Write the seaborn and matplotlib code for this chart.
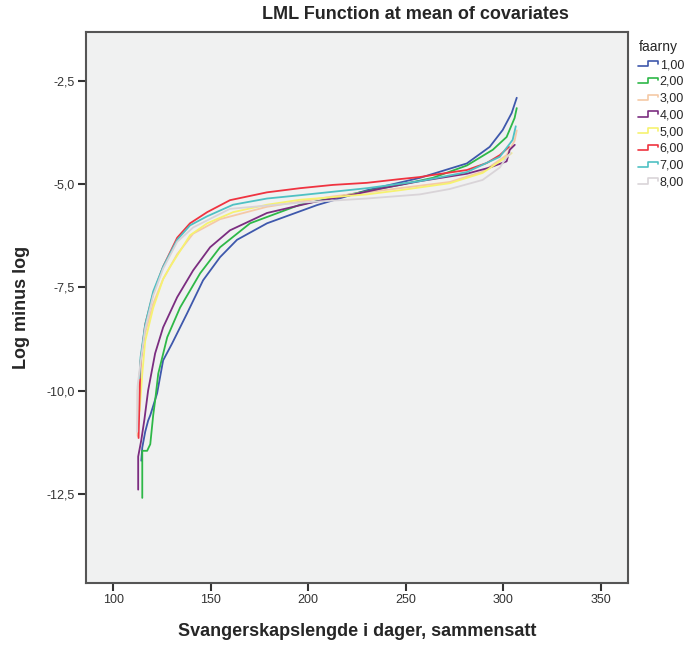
import numpy as np
import pandas as pd
import seaborn as sns
import matplotlib.pyplot as plt
from matplotlib.lines import Line2D
from matplotlib.legend_handler import HandlerBase
from matplotlib.ticker import FuncFormatter

groups = ['1,00', '2,00', '3,00', '4,00', '5,00', '6,00', '7,00', '8,00']
colors = ['#3E58AC', '#2EB848', '#F5C9A6', '#7B2D80', '#F6F270', '#EF3340', '#4FC1C3', '#D9D4D8']

# days, log minus log
days_1 = [114.4, 114.9, 116.4, 117.9, 119.0, 122.5, 125.6, 130.2, 137.9, 146.1, 154.8, 163.5, 178.9, 204.5, 230.1, 257.3, 281.4, 293.1, 299.8, 304.4, 307.0]
lml_1 = [-11.7, -11.38, -11.0, -10.73, -10.6, -10.07, -9.27, -8.86, -8.13, -7.33, -6.77, -6.35, -5.95, -5.51, -5.15, -4.85, -4.5, -4.10, -3.69, -3.28, -2.91]

days_2 = [114.9, 114.9, 117.4, 119.0, 120.5, 121.5, 123.1, 127.7, 134.3, 144.6, 154.8, 170.2, 195.8, 221.4, 247.0, 263.9, 281.4, 294.7, 301.8, 305.9, 307.0]
lml_2 = [-12.6, -11.46, -11.46, -11.3, -10.6, -10.24, -9.59, -8.71, -7.99, -7.16, -6.53, -5.95, -5.5, -5.25, -5.02, -4.85, -4.55, -4.17, -3.86, -3.4, -3.16]

days_3 = [112.5, 112.5, 114.0, 116.4, 120.5, 125.6, 132.8, 141.0, 154.8, 178.9, 212.7, 247.0, 272.6, 289.5, 301.8, 305.9, 307.0]
lml_3 = [-11.1, -10.0, -9.4, -8.6, -7.9, -7.3, -6.7, -6.2, -5.85, -5.55, -5.3, -5.1, -4.95, -4.7, -4.3, -3.95, -3.7]

days_4 = [112.8, 112.8, 114.4, 116.0, 117.9, 121.5, 125.6, 132.8, 141.0, 149.7, 159.9, 178.9, 202.5, 221.4, 238.3, 257.3, 281.4, 293.1, 301.8, 303.4, 306.0]
lml_4 = [-12.4, -11.6, -11.2, -10.7, -10.0, -9.1, -8.47, -7.74, -7.09, -6.53, -6.12, -5.70, -5.44, -5.27, -5.10, -4.93, -4.75, -4.6, -4.45, -4.17, -4.05]

days_5 = [113.5, 114.9, 116.4, 120.5, 125.6, 129.2, 139.4, 148.2, 161.5, 178.9, 195.8, 230.1, 247.0, 272.6, 289.5, 301.8, 304.4]
lml_5 = [-10.5, -9.6, -8.8, -8.0, -7.3, -7.0, -6.24, -5.95, -5.68, -5.5, -5.38, -5.25, -5.15, -4.98, -4.73, -4.34, -4.25]

days_6 = [113.0, 113.5, 114.0, 116.4, 120.5, 125.6, 132.8, 139.4, 148.2, 159.9, 178.9, 195.8, 212.7, 230.1, 247.0, 257.3, 263.9, 281.4, 291.6, 298.3, 303.0]
lml_6 = [-11.15, -10.2, -9.3, -8.4, -7.65, -7.0, -6.3, -5.95, -5.68, -5.39, -5.20, -5.10, -5.02, -4.97, -4.88, -4.83, -4.78, -4.66, -4.49, -4.30, -4.1]

days_7 = [113.5, 114.0, 116.4, 120.5, 125.6, 132.8, 139.4, 148.2, 161.5, 178.9, 195.8, 230.1, 257.3, 281.4, 298.3, 304.9, 306.5]
lml_7 = [-9.7, -9.2, -8.4, -7.6, -7.0, -6.35, -6.0, -5.78, -5.5, -5.35, -5.27, -5.1, -4.93, -4.71, -4.34, -3.93, -3.6]

days_8 = [112.3, 112.5, 113.8, 116.4, 120.5, 125.6, 132.8, 141.0, 159.9, 195.8, 230.1, 257.3, 272.6, 289.5, 298.3, 301.8, 304.0]
lml_8 = [-11.0, -9.9, -9.4, -8.5, -7.7, -7.05, -6.4, -6.05, -5.6, -5.45, -5.35, -5.25, -5.12, -4.9, -4.6, -4.35, -4.25]

all_days = [days_1, days_2, days_3, days_4, days_5, days_6, days_7, days_8]
all_lml = [lml_1, lml_2, lml_3, lml_4, lml_5, lml_6, lml_7, lml_8]

frames = []
for g, d, v in zip(groups, all_days, all_lml):
    frames.append(pd.DataFrame({'days': d, 'lml': v, 'faarny': g, 'order': range(len(d))}))
df = pd.concat(frames, ignore_index=True)


class StepHandler(HandlerBase):
    def create_artists(self, legend, orig_handle, xdescent, ydescent, width, height, fontsize, trans):
        x0 = -xdescent
        xs = [x0, x0 + 0.5 * width, x0 + 0.5 * width, x0 + width, x0 + width]
        ys = [0.2 * height, 0.2 * height, 0.8 * height, 0.8 * height, 0.5 * height]
        line = Line2D(xs, ys, color=orig_handle.get_color(), lw=1.2, transform=trans)
        return [line]


sns.set_style('white')
plt.rcParams['font.family'] = ['Liberation Sans', 'DejaVu Sans']

fig = plt.figure(figsize=(6.93, 6.47), dpi=100)
ax = fig.add_axes([0.124, 0.099, 0.782, 0.852])
ax.set_facecolor('#F0F1F1')

sns.lineplot(data=df, x='days', y='lml', hue='faarny', hue_order=groups,
             palette=colors, units='faarny', estimator=None, sort=False,
             linewidth=1.3, legend=False, ax=ax)

ax.set_xlim(86, 364)
ax.set_ylim(-14.66, -1.31)
ax.set_xticks([100, 150, 200, 250, 300, 350])
ax.set_yticks([-2.5, -5.0, -7.5, -10.0, -12.5])
ax.yaxis.set_major_formatter(FuncFormatter(lambda v, p: f'{v:.1f}'.replace('.', ',')))
ax.xaxis.set_major_formatter(FuncFormatter(lambda v, p: f'{v:.0f}'))
ax.tick_params(axis='both', which='major', direction='out', length=6, width=1.5,
               color='#333333', labelsize=9, labelcolor='#333333', pad=2,
               left=True, bottom=True)
for s in ax.spines.values():
    s.set_color('#555555')
    s.set_linewidth(1.5)

ax.set_xlabel('Svangerskapslengde i dager, sammensatt', fontsize=13, fontweight='bold', labelpad=12)
ax.set_ylabel('Log minus log', fontsize=13, fontweight='bold', labelpad=12)
fig.text(0.6, 0.978, 'LML Function at mean of covariates', ha='center', va='center',
         fontsize=13, fontweight='bold')

handles = [Line2D([], [], color=c) for c in colors]
leg = fig.legend(handles, groups, title='faarny', loc='upper left',
                 bbox_to_anchor=(0.905, 0.955), frameon=False, fontsize=9,
                 title_fontsize=10, handlelength=1.6, handletextpad=0.1,
                 labelspacing=0.38, handler_map={Line2D: StepHandler()})
leg._legend_box.align = 'left'

fig.savefig('out.png', dpi=100)
